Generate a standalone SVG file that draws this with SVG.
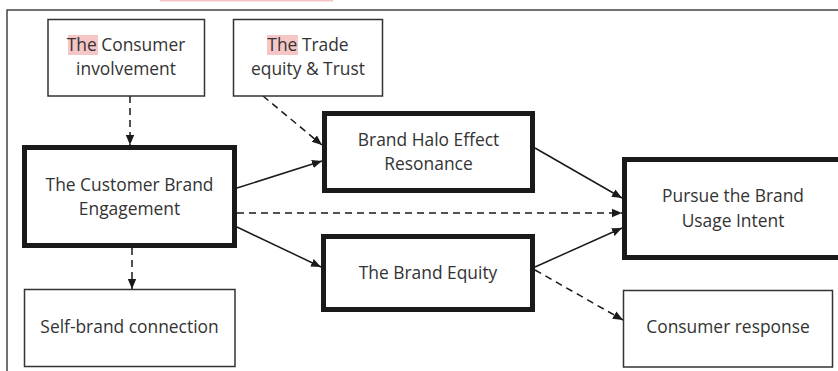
<svg xmlns="http://www.w3.org/2000/svg" width="838" height="371" viewBox="0 0 838 371">
<style>
.thin{fill:#fff;stroke:#333;stroke-width:1.5}
.thick{fill:#fff;stroke:#1a1a1a;stroke-width:5}
.t{font-family:"Open Sans","Noto Sans",sans-serif;font-size:17.4px;fill:#333;text-anchor:middle}
.hl{fill:#f6c6c6}
.c{fill:none;stroke:#1a1a1a;stroke-width:1.5}
.d{stroke-dasharray:7 5}
</style>
<defs>
<marker id="ah" viewBox="0 0 10 10" refX="10" refY="5" markerWidth="10" markerHeight="10" markerUnits="userSpaceOnUse" orient="auto">
<path d="M0,0.8 L10,5 L0,9.2 Z" fill="#1a1a1a"/>
</marker>
</defs>
<rect x="0" y="0" width="838" height="371" fill="#fff"/>
<rect x="160" y="0" width="173" height="1.5" class="hl"/>
<rect x="7" y="10" width="840" height="380" fill="none" stroke="#444" stroke-width="1.5"/>
<g id="connectors">
<line class="c d" x1="130" y1="96" x2="130" y2="145" marker-end="url(#ah)"/>
<line class="c d" x1="263" y1="96" x2="322" y2="145" marker-end="url(#ah)"/>
<line class="c" x1="237" y1="188" x2="322" y2="161" marker-end="url(#ah)"/>
<line class="c d" x1="237" y1="213" x2="622" y2="213" marker-end="url(#ah)"/>
<line class="c" x1="237" y1="227" x2="321" y2="267" marker-end="url(#ah)"/>
<line class="c" x1="535" y1="148" x2="622" y2="198" marker-end="url(#ah)"/>
<line class="c" x1="535" y1="267" x2="622" y2="228" marker-end="url(#ah)"/>
<line class="c d" x1="535" y1="270" x2="623" y2="320" marker-end="url(#ah)"/>
<line class="c d" x1="132" y1="248" x2="132" y2="289" marker-end="url(#ah)"/>
</g>
<g id="consumer-involvement">
<rect class="thin" x="48" y="19.5" width="156.5" height="76.5"/>
<rect class="hl" x="68" y="35" width="30" height="20"/>
<text class="t" x="126" y="51">The Consumer</text>
<text class="t" x="126" y="75">involvement</text>
</g>
<g id="trade-equity">
<rect class="thin" x="233.5" y="19.5" width="149" height="76.5"/>
<rect class="hl" x="267" y="35" width="31" height="20"/>
<text class="t" x="308" y="51">The Trade</text>
<text class="t" x="308" y="75">equity &amp; Trust</text>
</g>
<g id="brand-halo">
<rect class="thick" x="324.5" y="113.5" width="208" height="77"/>
<text class="t" x="428.5" y="146">Brand Halo Effect</text>
<text class="t" x="428.5" y="170">Resonance</text>
</g>
<g id="customer-brand-engagement">
<rect class="thick" x="24.5" y="147.5" width="210" height="98"/>
<text class="t" x="129.5" y="191">The Customer Brand</text>
<text class="t" x="129.5" y="215">Engagement</text>
</g>
<g id="brand-equity">
<rect class="thick" x="323.5" y="236.5" width="209" height="73"/>
<text class="t" x="428" y="279">The Brand Equity</text>
</g>
<g id="pursue-intent">
<rect class="thick" x="624.5" y="159.5" width="230" height="98"/>
<text class="t" x="733" y="202">Pursue the Brand</text>
<text class="t" x="733" y="227">Usage Intent</text>
</g>
<g id="self-brand">
<rect class="thin" x="24.5" y="289.5" width="210.5" height="77"/>
<text class="t" x="129.5" y="333">Self-brand connection</text>
</g>
<g id="consumer-response">
<rect class="thin" x="623.5" y="290.5" width="209" height="76.5"/>
<text class="t" x="728" y="333">Consumer response</text>
</g>
</svg>
